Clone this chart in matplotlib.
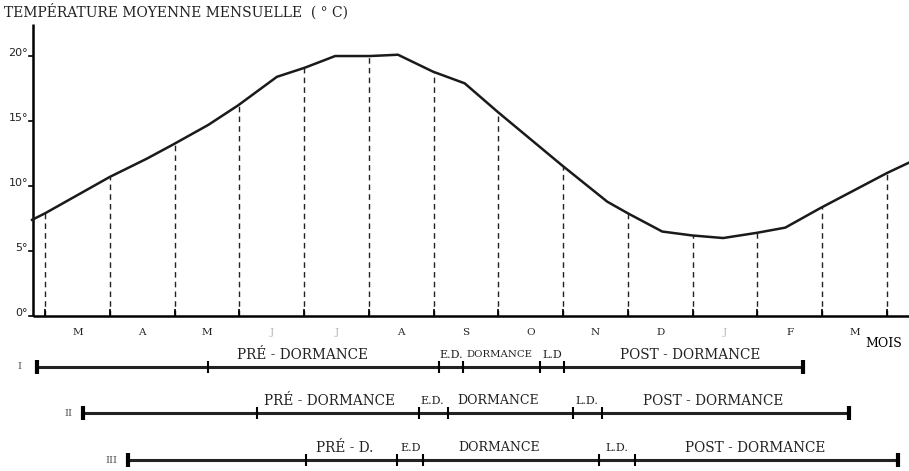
import numpy as np
import matplotlib.pyplot as plt

plt.rcParams['font.family'] = ['DejaVu Serif', 'Liberation Serif']

# mois (de mars à mars) ; 0 = début mars sur l'axe
mois = ["M", "A", "M", "J", "J", "A", "S", "O", "N", "D", "J", "F", "M"]
mois_pales = [3, 4, 10]
limites_mois = list(range(14))

# courbe de température moyenne mensuelle (°C)
x_courbe = [-0.2, 0.0, 1.0, 1.57, 1.98, 2.52, 2.98, 3.58, 4.01, 4.48, 5.02, 5.45, 5.99,
            6.48, 6.99, 7.98, 8.68, 9.0, 9.53, 9.99, 10.47, 10.99, 11.43, 11.97, 13.0, 13.34]
temp = [7.4, 7.9, 10.7, 12.1, 13.2, 14.7, 16.2, 18.4, 19.1, 20.0, 20.0, 20.1, 18.8,
        17.9, 15.7, 11.6, 8.8, 7.9, 6.5, 6.2, 6.0, 6.4, 6.8, 8.3, 11.0, 11.8]
yticks = [0, 5, 10, 15, 20]

# phases de dormance (limites en mois)
rangs = ["I", "II", "III"]
phases_I = [-0.12, 2.52, 6.08, 6.45, 7.64, 8.01, 11.70]
phases_II = [0.59, 3.27, 5.77, 6.22, 8.15, 8.60, 12.41]
phases_III = [1.28, 4.03, 5.43, 5.84, 8.55, 9.11, 13.17]
noms_I = ["PRÉ - DORMANCE", "E.D.", "DORMANCE", "L.D", "POST - DORMANCE"]
noms_II = ["PRÉ - DORMANCE", "E.D.", "DORMANCE", "L.D.", "POST - DORMANCE"]
noms_III = ["PRÉ - D.", "E.D", "DORMANCE", "L.D.", "POST - DORMANCE"]

fig = plt.figure(figsize=(9.09, 4.71), dpi=100)
ax = fig.add_axes([0, 0, 1, 1])
ax.set_xlim(-0.695, 13.34)
ax.set_ylim(-11.92, 24.31)
ax.axis("off")

x0 = -0.18
# axes
ax.plot([x0, x0], [0, 22.5], color="black", lw=1.8, solid_capstyle="butt")
ax.plot([x0, 13.34], [0, 0], color="black", lw=1.8, solid_capstyle="butt")
for t in yticks:
    ax.plot([x0 - 0.06, x0], [t, t], color="black", lw=1.2)
    ax.text(x0 - 0.08, t + 0.2, f"{t}°", ha="right", va="center", fontsize=8,
            family="DejaVu Sans", color="#222222")

# courbe
ax.plot(x_courbe, temp, color="#1a1a1a", lw=1.8)

# pointillés aux limites des mois
for xm in limites_mois:
    yt = np.interp(xm, x_courbe, temp)
    ax.plot([xm, xm], [0, yt], color="#222222", lw=1.0, dashes=(4, 3))
    ax.plot([xm, xm], [0, 0.45], color="black", lw=1.3)

for i, m in enumerate(mois):
    c = "#bbbbbb" if i in mois_pales else "#222222"
    ax.text(i + 0.5, -1.3, m, ha="center", va="center", fontsize=7.5, color=c)
ax.text(12.95, -2.1, "MOIS", ha="center", va="center", fontsize=9)

ax.text(-0.63, 23.4, "TEMPÉRATURE MOYENNE MENSUELLE  ( ° C)", ha="left", va="center",
        fontsize=10, color="#222222")

# barres des phases
y_rangs = [-3.92, -7.46, -11.08]
x_rangs = [-0.39, 0.355, 1.03]
x_noms = [[3.97, 6.27, 7.02, 7.83, 9.96],
          [4.40, 5.98, 6.99, 8.37, 10.31],
          [4.63, 5.64, 7.01, 8.83, 10.96]]
for rang, ph, noms, yr, xr, xn in zip(rangs, [phases_I, phases_II, phases_III],
                                      [noms_I, noms_II, noms_III], y_rangs, x_rangs, x_noms):
    ax.plot([ph[0], ph[-1]], [yr, yr], color="#222222", lw=2.2, solid_capstyle="butt")
    ax.plot([ph[0], ph[-1]], [yr, yr], ls="none", marker="|", ms=10, mew=3, color="black")
    ax.plot(ph[1:-1], [yr] * (len(ph) - 2), ls="none", marker="|", ms=9, mew=1.5, color="black")
    ax.text(xr, yr, rang, ha="center", va="center", fontsize=7, color="#555555")
    for nom, xx in zip(noms, xn):
        if nom == "DORMANCE" and rang == "I":
            fs = 7.3
        elif len(nom) <= 4:
            fs = 8
        elif nom == "DORMANCE":
            fs = 9
        else:
            fs = 9.8
        ax.text(xx, yr + 0.95, nom, ha="center", va="center", fontsize=fs, color="#222222")

fig.savefig("out.png", dpi=100)
